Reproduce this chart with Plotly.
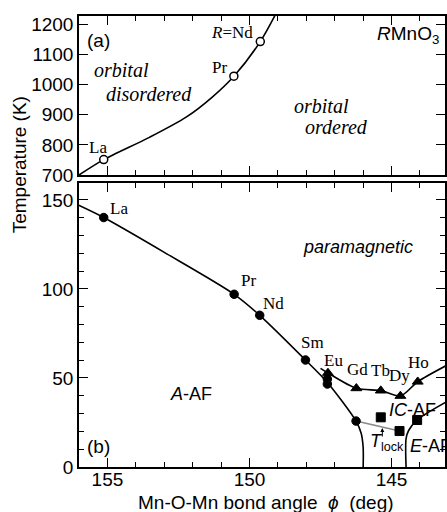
import plotly.graph_objects as go

# ---------------- (a) orbital-ordering transition ----------------
oo_names = ["La", "Pr", "<i>R</i>=Nd"]
oo_angle = [155.13, 150.55, 149.62]
oo_temp = [751, 1028, 1143]
oo_line_angle = [156.0, 155.13, 153.52, 152.23, 151.32, 150.55, 149.62, 149.02]
oo_line_temp = [700, 751, 825, 892, 958, 1028, 1143, 1245]

# ---------------- (b) magnetic phase diagram ----------------
# A-type AF ordering temperatures (filled circles)
aaf_names = ["La", "Pr", "Nd", "Sm", "", "", ""]
aaf_angle = [155.13, 150.54, 149.64, 148.03, 147.26, 147.26, 146.25]
aaf_temp = [140.1, 97.0, 85.2, 60.1, 49.4, 46.6, 25.8]
# Neel temperatures of the incommensurate phase (triangles)
ic_names = ["Eu", "Gd", "Tb", "Dy", "Ho"]
ic_angle = [147.24, 146.24, 145.38, 144.69, 144.08]
ic_temp = [52.8, 44.2, 42.9, 39.9, 47.9]
# lock-in / E-type transitions (squares)
lock_angle = [145.38, 144.72, 144.10]
lock_temp = [27.9, 20.2, 26.4]

# phase boundaries
aaf_line_angle = [156.04, 155.13, 152.94, 150.54, 149.64, 148.03, 147.26, 146.25, 146.07, 146.0, 146.0]
aaf_line_temp = [147.2, 140.1, 120.0, 97.0, 85.2, 60.1, 47.5, 25.8, 19.0, 11.0, 0.0]
ic_line_angle = [147.50, 147.24, 146.24, 145.38, 144.69, 144.08, 143.0]
ic_line_temp = [55.4, 52.8, 44.2, 42.9, 39.9, 47.9, 57.6]
eaf_line_angle = [143.0, 144.10, 144.40, 144.49, 144.49]
eaf_line_temp = [37.2, 26.4, 20.5, 16.0, 0.0]
tlock_line_angle = [146.25, 144.72]
tlock_line_temp = [25.8, 20.2]

SANS = "Liberation Sans, Arial, sans-serif"
SERIF = "Liberation Serif, Times New Roman, serif"
BLACK = "black"

fig = go.Figure()


def line(xs, ys, ax, color=BLACK, width=1.6):
    xa, ya = ax
    fig.add_trace(go.Scatter(x=xs, y=ys, xaxis=xa, yaxis=ya, mode="lines",
                             line=dict(color=color, width=width, shape="spline", smoothing=0.8),
                             hoverinfo="skip", showlegend=False))


def marks(xs, ys, ax, symbol, size, fill=BLACK, lw=1.0):
    xa, ya = ax
    fig.add_trace(go.Scatter(x=xs, y=ys, xaxis=xa, yaxis=ya, mode="markers",
                             marker=dict(symbol=symbol, size=size, color=fill,
                                         line=dict(color=BLACK, width=lw)),
                             cliponaxis=False, hoverinfo="skip", showlegend=False))


TOP = ("x2", "y2")
BOT = ("x", "y")

line(oo_line_angle, oo_line_temp, TOP)
marks(oo_angle, oo_temp, TOP, "circle", 8, fill="white", lw=1.5)

line(aaf_line_angle, aaf_line_temp, BOT)
line(ic_line_angle, ic_line_temp, BOT)
line(eaf_line_angle, eaf_line_temp, BOT)
fig.add_trace(go.Scatter(x=tlock_line_angle, y=tlock_line_temp, mode="lines",
                         line=dict(color="#8a8a8a", width=1.6),
                         hoverinfo="skip", showlegend=False))
marks(aaf_angle, aaf_temp, BOT, "circle", 8.5)
marks(ic_angle, ic_temp, BOT, "triangle-up", 9.5)
marks(lock_angle, lock_temp, BOT, "square", 9)

# ---------------- text ----------------
ann = []


def px(x, y):
    return (x - 79) / 368, (467 - y) / 451


def text(x, y, s, family=SANS, size=18, xanchor="center"):
    u, v = px(x, y)
    ann.append(dict(x=u, y=v, xref="paper", yref="paper", text=s, showarrow=False,
                    xanchor=xanchor, yanchor="middle",
                    font=dict(family=family, size=size, color=BLACK)))


def point_label(xa, ya, x, y, s, dx, dy):
    ann.append(dict(x=x, y=y, xref=xa, yref=ya, text=s, showarrow=False,
                    xshift=dx, yshift=-dy, xanchor="center", yanchor="middle",
                    font=dict(family=SERIF, size=17, color=BLACK)))


# element labels: offsets in pixels from each marker
for s, x, y, d in zip(oo_names, oo_angle, oo_temp, [(-6, -12), (-14, -9), (-28, -9)]):
    point_label("x2", "y2", x, y, s, *d)
for s, x, y, d in zip(aaf_names[:4], aaf_angle, aaf_temp, [(15, -9), (14, -14), (14, -12), (7, -17)]):
    point_label("x", "y", x, y, s, *d)
for s, x, y, d in zip(ic_names, ic_angle, ic_temp, [(6, -12), (1, -19), (0, -20), (-1, -20), (1, -19)]):
    point_label("x", "y", x, y, s, *d)

text(99, 40, "(a)", size=19)
text(122, 70, "<i>orbital</i>", family=SERIF, size=20)
text(149, 94, "<i>disordered</i>", family=SERIF, size=20)
text(323, 106, "<i>orbital</i>", family=SERIF, size=20)
text(338, 127, "<i>ordered</i>", family=SERIF, size=20)
text(377, 35, "<i>R</i>MnO<sub>3</sub>", size=19, xanchor="left")

text(360, 247, "<i>paramagnetic</i>", size=18)
text(192, 394, "<i>A</i>-AF", size=18)
text(389, 410, "<i>IC</i>-AF", size=18, xanchor="left")
text(410, 446, "<i>E</i>-AF", size=18, xanchor="left")
text(370, 442, "<i>T</i><sub>lock</sub>", size=18, xanchor="left")
text(99, 446, "(b)", size=19)

# small arrow pointing from the T_lock label up to the gray boundary
u1, v1 = px(384, 428)
ann.append(dict(x=u1, y=v1, ax=0, ay=10, xref="paper", yref="paper", axref="pixel", ayref="pixel",
                text="", showarrow=True, arrowhead=2, arrowsize=0.8, arrowwidth=1, arrowcolor=BLACK))

u, v = px(20, 165)
ann.append(dict(x=u, y=v, xref="paper", yref="paper", text="Temperature (K)", textangle=-90,
                showarrow=False, xanchor="center", yanchor="middle",
                font=dict(family=SANS, size=19, color=BLACK)))
u, v = px(267, 502)
ann.append(dict(x=u, y=v, xref="paper", yref="paper",
                text="Mn-O-Mn bond angle\u00a0\u00a0<i>\u03d5</i>\u00a0\u00a0(deg)",
                showarrow=False, xanchor="center", yanchor="middle",
                font=dict(family=SANS, size=19, color=BLACK)))

# ---------------- axes ----------------
common = dict(showline=True, linecolor=BLACK, linewidth=1.5, mirror="ticks", ticks="inside",
              ticklen=9, tickwidth=1.3, tickcolor=BLACK, showgrid=False, zeroline=False,
              tickfont=dict(family=SANS, size=19, color=BLACK))
xminor = dict(ticks="inside", ticklen=5, tickwidth=1, tickcolor=BLACK, tick0=145, dtick=1, showgrid=False)

fig.update_layout(
    width=447, height=512,
    margin=dict(l=79, r=0, t=16, b=45),
    paper_bgcolor="white", plot_bgcolor="white",
    showlegend=False,
    annotations=ann,
    xaxis=dict(domain=[0, 1], range=[156.0, 143.12], anchor="y", tickmode="linear", tick0=145, dtick=5,
               ticklabelstandoff=-6, minor=xminor, **common),
    yaxis=dict(domain=[0, 0.6297], range=[0, 159.5], anchor="x", tickmode="linear", tick0=0, dtick=50,
               minor=dict(ticks="inside", ticklen=5, tickwidth=1, tickcolor=BLACK, tick0=0, dtick=10,
                          showgrid=False), **common),
    xaxis2=dict(domain=[0, 1], range=[156.0, 143.12], anchor="y2", matches="x", tickmode="linear",
                tick0=145, dtick=5, showticklabels=False, minor=xminor, **common),
    yaxis2=dict(domain=[0.6475, 1], range=[700, 1228], anchor="x2", tickmode="linear", tick0=700,
                dtick=100, **common),
)

fig.write_html("out.html")
